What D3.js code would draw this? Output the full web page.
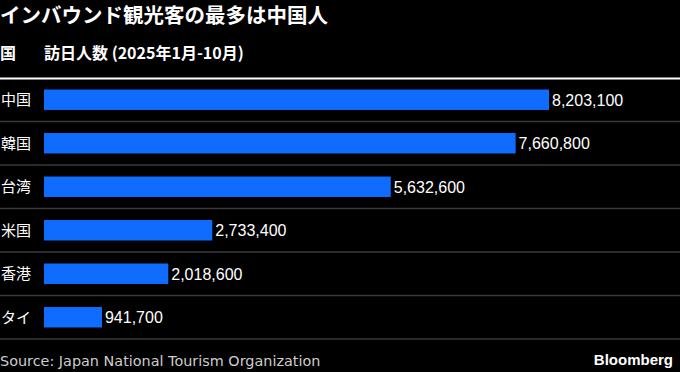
<!DOCTYPE html>
<html>
<head>
<meta charset="utf-8">
<script src="https://cdn.jsdelivr.net/npm/d3@7"></script>
<style>
  body { margin: 0; background: #000; }
  text { font-family: "Liberation Sans", "Noto Sans CJK JP", sans-serif; }
</style>
</head>
<body>
<div id="main"></div>
<script>
const countries = ["中国", "韓国", "台湾", "米国", "香港", "タイ"];
const visitors = [8203100, 7660800, 5632600, 2733400, 2018600, 941700];

const ctx = {
    WIDTH: 680,
    HEIGHT: 372,
    BAR_X: 44,
    TOP: 78,
    ROW_H: 43.5
};

const svg = d3.select("#main").append("svg")
    .attr("width", ctx.WIDTH)
    .attr("height", ctx.HEIGHT)
    .style("background", "#000");

svg.append("text")
    .attr("x", 0).attr("y", 23)
    .style("font-family", "'Noto Sans CJK JP'")
    .style("font-size", "20.5px").style("font-weight", "bold")
    .style("fill", "#fff")
    .text("インバウンド観光客の最多は中国人");

svg.append("text")
    .attr("x", 0).attr("y", 59)
    .style("font-family", "'Noto Sans CJK JP'")
    .style("font-size", "16px").style("font-weight", "bold")
    .style("fill", "#fff")
    .text("国");

svg.append("text")
    .attr("x", ctx.BAR_X).attr("y", 59)
    .style("font-family", "'Noto Sans CJK JP'")
    .style("font-size", "16px").style("font-weight", "bold")
    .style("fill", "#fff")
    .text("訪日人数 (2025年1月-10月)");

svg.append("line")
    .attr("x1", 0).attr("x2", ctx.WIDTH)
    .attr("y1", 78.5).attr("y2", 78.5)
    .attr("stroke", "#fff").attr("stroke-width", 2);

const y = d3.scaleBand()
    .domain(countries)
    .range([ctx.TOP, ctx.TOP + ctx.ROW_H * countries.length])
    .paddingInner(0.53).paddingOuter(0.265);

const x = d3.scaleLinear()
    .domain([0, d3.max(visitors)])
    .range([ctx.BAR_X, 549]);

const rows = svg.append("g").selectAll("g")
    .data(countries)
    .join("g");

// row separators
rows.append("line")
    .attr("x1", 0).attr("x2", ctx.WIDTH)
    .attr("y1", (d, i) => ctx.TOP + ctx.ROW_H * (i + 1))
    .attr("y2", (d, i) => ctx.TOP + ctx.ROW_H * (i + 1))
    .attr("stroke", "#3a3a3a").attr("stroke-width", 1.5);

rows.append("rect")
    .attr("x", x(0))
    .attr("y", d => y(d))
    .attr("width", (d, i) => x(visitors[i]) - x(0))
    .attr("height", y.bandwidth())
    .attr("fill", "#0f6cff");

rows.append("text")
    .attr("x", 1)
    .attr("y", d => y(d) + y.bandwidth() / 2 + 5.5)
    .style("font-family", "'Noto Sans CJK JP'")
    .style("font-size", "15px")
    .style("fill", "#fff")
    .text(d => d);

rows.append("text")
    .attr("x", (d, i) => x(visitors[i]) + 3)
    .attr("y", d => y(d) + y.bandwidth() / 2 + 6)
    .style("font-size", "16px")
    .style("fill", "#fff")
    .text((d, i) => d3.format(",")(visitors[i]));

svg.append("text")
    .attr("x", 0).attr("y", 366)
    .style("font-family", "'DejaVu Sans', sans-serif")
    .style("font-size", "14.4px")
    .style("fill", "#ccc")
    .text("Source: Japan National Tourism Organization");

svg.append("text")
    .attr("x", 673).attr("y", 365)
    .attr("text-anchor", "end")
    .style("font-size", "15px").style("font-weight", "bold")
    .style("fill", "#fff")
    .text("Bloomberg");
</script>
</body>
</html>
